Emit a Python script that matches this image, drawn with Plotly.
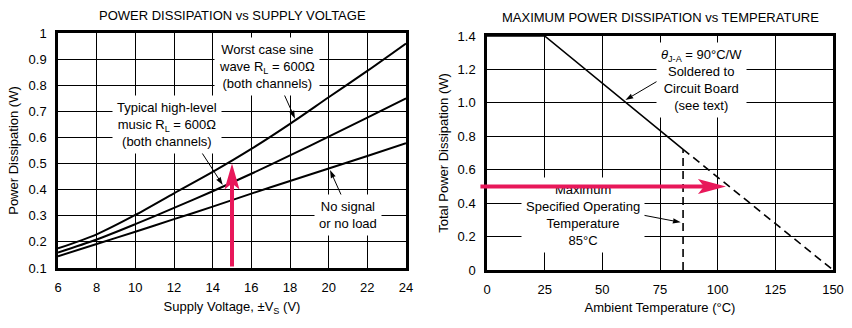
import math
import plotly.graph_objects as go

# ---------------- Data: left chart (Power dissipation vs supply voltage) ----------------
supply_voltage = [6, 8, 10, 12, 14, 16, 18, 20, 22, 24]
pd_worst_case_sine = [0.175, 0.229, 0.303, 0.386, 0.468, 0.556, 0.652, 0.754, 0.855, 0.960]
pd_typical_music = [0.159, 0.209, 0.268, 0.330, 0.394, 0.461, 0.531, 0.603, 0.676, 0.750]
pd_no_signal = [0.145, 0.192, 0.239, 0.287, 0.335, 0.385, 0.433, 0.481, 0.529, 0.578]
left_x_ticks = [6, 8, 10, 12, 14, 16, 18, 20, 22, 24]
left_y_ticks = [0.1, 0.2, 0.3, 0.4, 0.5, 0.6, 0.7, 0.8, 0.9, 1.0]
left_y_ticktext = ["0.1", "0.2", "0.3", "0.4", "0.5", "0.6", "0.7", "0.8", "0.9", "1"]
highlight_voltage = 15
highlight_power_left = 0.5

# ---------------- Data: right chart (Max power dissipation vs temperature) ----------------
temp_rated = [0, 25, 85]
pd_rated = [1.4, 1.4, 0.722]
temp_derated = [85, 150]
pd_derated = [0.722, 0.0]
max_operating_temp = 85
right_x_ticks = [0, 25, 50, 75, 100, 125, 150]
right_y_ticks = [0, 0.2, 0.4, 0.6, 0.8, 1.0, 1.2, 1.4]
right_y_ticktext = ["0", "0.2", "0.4", "0.6", "0.8", "1.0", "1.2", "1.4"]
highlight_power_right = 0.5
highlight_temp_tail = -3.5
highlight_temp_tip = 103.6

# ---------------- Layout geometry ----------------
W, H = 852, 328
L_DX = [58 / W, 406 / W]
L_DY = [1 - 268 / H, 1 - 33 / H]
R_DX = [487 / W, 833 / W]
R_DY = [1 - 270 / H, 1 - 36 / H]
L_XR, L_YR = [6, 24], [0.1, 1.0]
R_XR, R_YR = [0, 150], [0, 1.4]

FONT = "Arial, Liberation Sans, Helvetica, sans-serif"
PINK = "#E8185A"
BLACK = "#000000"


def ppu(dom, rng, size):
    return (dom[1] - dom[0]) * size / (rng[1] - rng[0])


SCALES = {
    ("x", "y"): (ppu(L_DX, L_XR, W), ppu(L_DY, L_YR, H)),
    ("x2", "y2"): (ppu(R_DX, R_XR, W), ppu(R_DY, R_YR, H)),
}

fig = go.Figure()

# Left curves
for ys in (pd_worst_case_sine, pd_typical_music, pd_no_signal):
    fig.add_trace(go.Scatter(x=supply_voltage, y=ys, mode="lines", line=dict(color=BLACK, width=2, shape="spline", smoothing=0.8),
                             xaxis="x", yaxis="y", showlegend=False, hoverinfo="skip"))

# Right curves
fig.add_trace(go.Scatter(x=temp_rated, y=pd_rated, mode="lines", line=dict(color=BLACK, width=1.6),
                         xaxis="x2", yaxis="y2", showlegend=False, hoverinfo="skip"))
fig.add_trace(go.Scatter(x=temp_derated, y=pd_derated, mode="lines", line=dict(color=BLACK, width=1.6, dash="8px,5px"),
                         xaxis="x2", yaxis="y2", showlegend=False, hoverinfo="skip"))
fig.add_trace(go.Scatter(x=[max_operating_temp, max_operating_temp], y=[R_YR[0], pd_derated[0]], mode="lines",
                         line=dict(color=BLACK, width=1.6, dash="8px,5px"),
                         xaxis="x2", yaxis="y2", showlegend=False, hoverinfo="skip"))

axis_common = dict(showgrid=True, gridcolor=BLACK, gridwidth=1, zeroline=False, showline=True, mirror=True,
                   linecolor=BLACK, linewidth=2.5, ticks="outside", ticklen=6, tickcolor="rgba(0,0,0,0)",
                   tickfont=dict(family=FONT, size=13, color=BLACK), fixedrange=True, automargin=False)

layout = dict(
    width=W, height=H, autosize=False, margin=dict(l=0, r=0, t=0, b=0, pad=0, autoexpand=False),
    paper_bgcolor="white", plot_bgcolor="white",
    font=dict(family=FONT, size=13, color=BLACK), showlegend=False,
    xaxis=dict(domain=L_DX, range=L_XR, anchor="y", tickvals=left_x_ticks,
               title=dict(text="Supply Voltage, ±V<sub>S</sub> (V)", font=dict(size=13), standoff=8), **axis_common),
    yaxis=dict(domain=L_DY, range=L_YR, anchor="x", tickvals=left_y_ticks, ticktext=left_y_ticktext,
               title=dict(text="Power Dissipation (W)", font=dict(size=13), standoff=8), **axis_common),
    xaxis2=dict(domain=R_DX, range=R_XR, anchor="y2", tickvals=right_x_ticks,
                title=dict(text="Ambient Temperature (°C)", font=dict(size=13), standoff=7), **axis_common),
    yaxis2=dict(domain=R_DY, range=R_YR, anchor="x2", tickvals=right_y_ticks, ticktext=right_y_ticktext,
                title=dict(text="Total Power Dissipation (W)", font=dict(size=13), standoff=7), **axis_common),
)
fig.update_layout(**layout)

annotations = []
shapes = []

# Chart titles
annotations.append(dict(text="POWER DISSIPATION vs SUPPLY VOLTAGE", xref="paper", yref="paper",
                        x=sum(L_DX) / 2, y=1 - 15 / H, xanchor="center", yanchor="middle", showarrow=False,
                        font=dict(size=13)))
annotations.append(dict(text="MAXIMUM POWER DISSIPATION vs TEMPERATURE", xref="paper", yref="paper",
                        x=sum(R_DX) / 2, y=1 - 17 / H, xanchor="center", yanchor="middle", showarrow=False,
                        font=dict(size=13)))


def label(text, x, y, xr, yr):
    annotations.append(dict(text=text, x=x, y=y, xref=xr, yref=yr, showarrow=False, align="center",
                            xanchor="center", yanchor="middle", bgcolor="white", borderpad=4,
                            font=dict(size=13)))


def arrow(x0, y0, x1, y1, xr, yr, color, width, head_len, head_hw, notch, shaft_on_top=False):
    """Arrow from (x0,y0) to tip (x1,y1) in data coords; head sized in pixels."""
    sx, sy = SCALES[(xr, yr)]
    dx, dy = (x1 - x0) * sx, (y1 - y0) * sy
    n = math.hypot(dx, dy)
    ux, uy = dx / n, dy / n
    px, py = -uy, ux
    bx, by = x1 - ux * head_len / sx, y1 - uy * head_len / sy
    nx, ny = x1 - ux * (head_len - notch) / sx, y1 - uy * (head_len - notch) / sy
    lx, ly = bx + px * head_hw / sx, by + py * head_hw / sy
    rx, ry = bx - px * head_hw / sx, by - py * head_hw / sy
    ex, ey = nx + ux * 1 / sx, ny + uy * 1 / sy
    if shaft_on_top:
        # drawn in the annotation layer so it sits above the white label boxes
        annotations.append(dict(text="", x=ex, y=ey, ax=x0, ay=y0, xref=xr, yref=yr, axref=xr, ayref=yr,
                                showarrow=True, arrowhead=0, arrowwidth=width, arrowcolor=color,
                                standoff=0, startstandoff=0))
    else:
        shapes.append(dict(type="line", xref=xr, yref=yr, x0=x0, y0=y0, x1=ex, y1=ey,
                           line=dict(color=color, width=width)))
    shapes.append(dict(type="path", xref=xr, yref=yr, fillcolor=color, line=dict(width=0),
                       path=f"M{x1},{y1} L{lx},{ly} L{nx},{ny} L{rx},{ry} Z"))


def pointer(x0, y0, x1, y1, xr, yr):
    arrow(x0, y0, x1, y1, xr, yr, BLACK, 1, 8, 2.6, 0.5)


# Left chart labels
label("Worst case sine<br>wave R<sub>L</sub> = 600Ω<br>(both channels)", 16.8, 0.871, "x", "y")
pointer(17.64, 0.774, 18.26, 0.672, "x", "y")
label("Typical high-level<br>music R<sub>L</sub> = 600Ω<br>(both channels)", 11.62, 0.651, "x", "y")
pointer(13.35, 0.552, 14.52, 0.418, "x", "y")
label("No signal<br>or no load", 21.0, 0.303, "x", "y")
pointer(20.76, 0.361, 20.07, 0.475, "x", "y")

# Right chart labels
label("<i>θ</i><sub>J-A</sub> = 90°C/W<br>Soldered to<br>Circuit Board<br>(see text)", 92.8, 1.136, "x2", "y2")
pointer(74.0, 1.131, 60.0, 1.017, "x2", "y2")
label("Maximum<br>Specified Operating<br>Temperature<br>85°C", 41.7, 0.329, "x2", "y2")
pointer(67.0, 0.33, 84.0, 0.285, "x2", "y2")

# Pink highlight arrows (drawn last, on top of the labels)
HEAD_LEN, HEAD_HW, NOTCH = 26, 7.5, 6
arrow(highlight_voltage, L_YR[0], highlight_voltage, highlight_power_left, "x", "y",
      PINK, 4, HEAD_LEN, HEAD_HW, NOTCH, shaft_on_top=True)
arrow(highlight_temp_tail, highlight_power_right, highlight_temp_tip, highlight_power_right, "x2", "y2",
      PINK, 4, HEAD_LEN + 2, HEAD_HW, NOTCH, shaft_on_top=True)

fig.update_layout(annotations=annotations, shapes=shapes)
fig.write_html("out.html")
